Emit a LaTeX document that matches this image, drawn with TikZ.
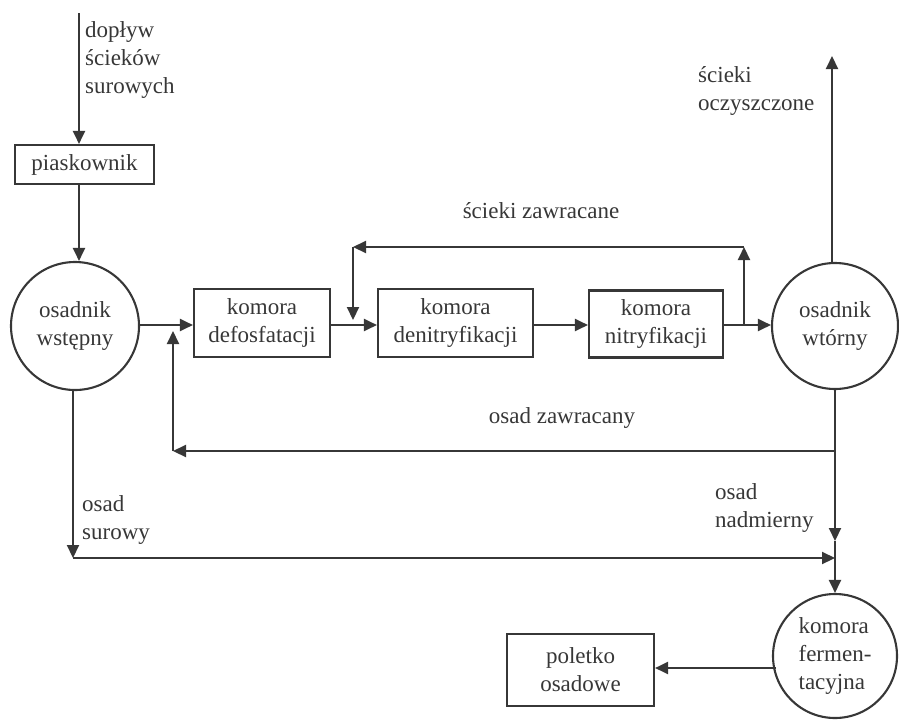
\documentclass[tikz,border=0pt]{standalone}
\usepackage{fontspec}
\setmainfont{Liberation Serif}
\usetikzlibrary{arrows.meta}
\definecolor{ink}{RGB}{55,55,55}
\begin{document}
\begin{tikzpicture}[x=1pt,y=-1pt,
  every node/.style={font=\fontsize{23}{28}\selectfont, text=ink},
  line/.style={draw=ink, line width=2.1pt},
  arr/.style={line, -{Triangle[length=13pt,width=12pt]}},
  box/.style={draw=ink, line width=2.1pt, rectangle, inner sep=0pt, align=center},
  tank/.style={draw=ink, line width=2.1pt, circle, inner sep=0pt, align=center},
  lbl/.style={inner sep=0pt, align=left, anchor=north west}]
\useasboundingbox (0,0) rectangle (899,723);
% nodes
\node[box, minimum width=139pt, minimum height=39pt] (piask) at (84.5,164.5) {piaskownik};
\node[tank, minimum size=128pt] (osw) at (75,326) {osadnik\\wstępny};
\node[box, minimum width=136pt, minimum height=68pt] (def) at (262,323) {komora\\defosfatacji};
\node[box, minimum width=155pt, minimum height=68pt] (den) at (455.5,323) {komora\\denitryfikacji};
\node[box, minimum width=134pt, minimum height=67pt] (nit) at (656,324) {komora\\nitryfikacji};
\node[tank, minimum size=126pt] (owt) at (835,326) {osadnik\\wtórny};
\node[tank, minimum size=124pt, align=left] (kf) at (835,656) {komora\\fermen-\\tacyjna};
\node[box, minimum width=147pt, minimum height=72pt] (pol) at (580.5,670) {poletko\\osadowe};
% labels
\node[lbl] (t1) at (85,21) {dopływ\\ścieków\\surowych};
\node[anchor=base, inner sep=0pt] (t2) at (541,218) {ścieki zawracane};
\node[lbl] (t3) at (698,66) {ścieki\\oczyszczone};
\node[anchor=base, inner sep=0pt] (t4) at (562,423) {osad zawracany};
\node[lbl] (t5) at (82,495) {osad\\surowy};
\node[lbl] (t6) at (715,483) {osad\\nadmierny};
% coordinates
\coordinate (in) at (79,13);
\coordinate (m) at (0,325);
\coordinate (split) at (744,325);
\coordinate (rtop) at (744,247);
\coordinate (ltop) at (353,247);
\coordinate (ldown) at (353,320);
\coordinate (out) at (832,56);
\coordinate (b1) at (835,451);
\coordinate (r1) at (173,451);
\coordinate (r2) at (173,331);
\coordinate (n1) at (835,541);
\coordinate (junc) at (835,558);
\coordinate (s1) at (73,558);
\coordinate (k1) at (776,668);
% connectors
\draw[arr] (in) -- (in |- piask.north);
\draw[arr] (in |- piask.south) -- (in |- osw.north);
\draw[arr] (m -| osw.east) -- (m -| def.west);
\draw[arr] (m -| def.east) -- (m -| den.west);
\draw[arr] (m -| den.east) -- (m -| nit.west);
\draw[arr] (m -| nit.east) -- (m -| owt.west);
\draw[arr] (split) -- (rtop);
\draw[arr] (rtop) -- (ltop);
\draw[arr] (ltop) -- (ldown);
\draw[arr] (owt.north -| out) -- (out);
\draw[line] (owt.south) -- (b1);
\draw[arr] (b1) -- (r1);
\draw[arr] (r1) -- (r2);
\draw[arr] (b1) -- (n1);
\draw[line] (n1) -- (junc);
\draw[arr] (junc) -- (kf.north);
\draw[arr] (osw.south -| s1) -- (s1);
\draw[arr] (s1) -- (junc);
\draw[arr] (k1) -- (k1 -| pol.east);
\end{tikzpicture}
\end{document}
